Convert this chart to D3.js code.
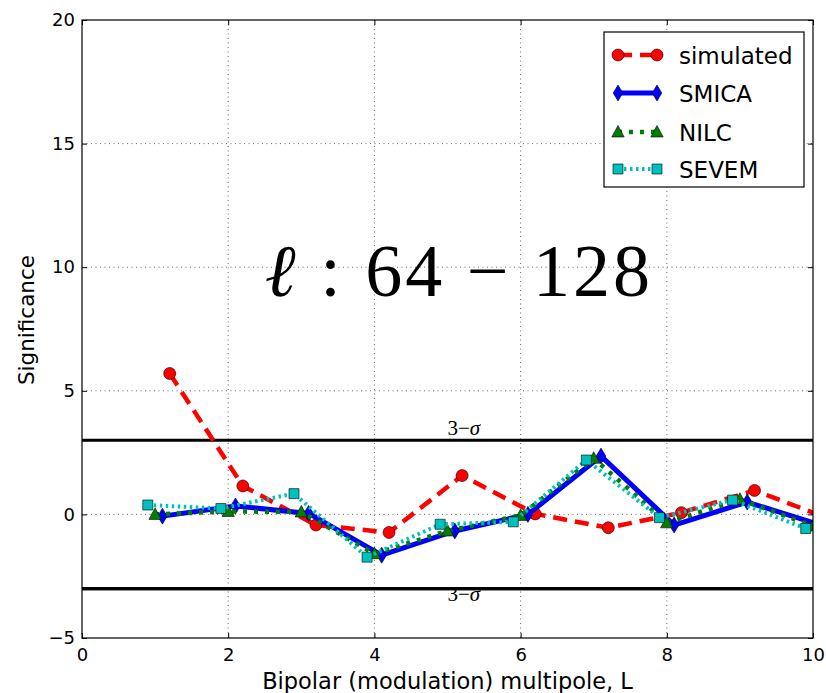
<!DOCTYPE html>
<html>
<head>
<meta charset="utf-8">
<script src="https://cdn.jsdelivr.net/npm/d3@7"></script>
<style>
  html, body { margin: 0; padding: 0; background: #fff; }
  svg { display: block; }
  text { font-family: "DejaVu Sans", sans-serif; fill: #000; }
</style>
</head>
<body>
<svg id="chart" width="826" height="693"></svg>
<script>
// Bipolar multipoles L = 1..10; each map is nudged sideways so the markers don't overlap
const simulatedL = [1.2, 2.2, 3.2, 4.2, 5.2, 6.2, 7.2, 8.2, 9.2, 10.2];
const simulated  = [5.70, 1.15, -0.43, -0.73, 1.57, 0.02, -0.54, 0.07, 0.97, -0.15];

const smicaL = [1.1, 2.1, 3.1, 4.1, 5.1, 6.1, 7.1, 8.1, 9.1, 10.1];
const smica  = [-0.07, 0.34, 0.04, -1.65, -0.67, 0.00, 2.36, -0.43, 0.50, -0.43];

const nilcL = [1, 2, 3, 4, 5, 6, 7, 8, 9, 10];
const nilc  = [0.00, 0.12, 0.10, -1.59, -0.67, -0.04, 2.27, -0.34, 0.61, -0.47];

const sevemL = [0.9, 1.9, 2.9, 3.9, 4.9, 5.9, 6.9, 7.9, 8.9, 9.9];
const sevem  = [0.38, 0.24, 0.84, -1.73, -0.40, -0.30, 2.20, -0.13, 0.58, -0.57];

const xTicks = [0, 2, 4, 6, 8, 10];
const yTicks = [-5, 0, 5, 10, 15, 20];
const sigmaLevels = [3, -3];
const sigmaLabelY = [3.2, -3.5];
const sigmaLabelL = 5;

const seriesNames = ["simulated", "SMICA", "NILC", "SEVEM"];

const svg = d3.select("#chart");
const W = 826, H = 693;
const m = { left: 82, right: 13, top: 20, bottom: 55 };
const pw = W - m.left - m.right, ph = H - m.top - m.bottom;

const x = d3.scaleLinear().domain([0, 10]).range([m.left, m.left + pw]);
const y = d3.scaleLinear().domain([-5, 20]).range([m.top + ph, m.top]);

svg.append("rect").attr("width", W).attr("height", H).attr("fill", "#fff");

svg.append("defs").append("clipPath").attr("id", "plotclip")
  .append("rect").attr("x", m.left).attr("y", m.top).attr("width", pw).attr("height", ph);

// dotted grid
const grid = svg.append("g");
grid.selectAll("line.gx").data(xTicks.slice(1, -1)).join("line")
  .attr("x1", d => x(d)).attr("x2", d => x(d))
  .attr("y1", m.top).attr("y2", m.top + ph)
  .attr("stroke", "#444").attr("stroke-width", 0.8).attr("stroke-dasharray", "1,3.5");
grid.selectAll("line.gy").data(yTicks.slice(1, -1)).join("line")
  .attr("y1", d => y(d)).attr("y2", d => y(d))
  .attr("x1", m.left).attr("x2", m.left + pw)
  .attr("stroke", "#444").attr("stroke-width", 0.8).attr("stroke-dasharray", "1,3.5");

// 3-sigma reference lines
const ref = svg.append("g");
ref.selectAll("line").data(sigmaLevels).join("line")
  .attr("x1", m.left).attr("x2", m.left + pw)
  .attr("y1", d => y(d)).attr("y2", d => y(d))
  .attr("stroke", "#000").attr("stroke-width", 3.2);

// marker shapes
function markerPath(shape) {
  switch (shape) {
    case "circle": return "M6,0A6,6 0 1,1 -6,0A6,6 0 1,1 6,0Z";
    case "thin_diamond": return "M0,-8L4.8,0L0,8L-4.8,0Z";
    case "triangle": return "M0,-6.5L6.2,5L-6.2,5Z";
    case "square": return "M-5,-5H5V5H-5Z";
  }
}

const series = [
  { name: seriesNames[0], xs: simulatedL, ys: simulated, color: "#ff0000", width: 4.5, dash: "14,8", marker: "circle" },
  { name: seriesNames[1], xs: smicaL, ys: smica, color: "#0000ff", width: 5, dash: null, marker: "thin_diamond" },
  { name: seriesNames[2], xs: nilcL, ys: nilc, color: "#007f00", width: 4.5, dash: "4,7", marker: "triangle" },
  { name: seriesNames[3], xs: sevemL, ys: sevem, color: "#00bfbf", width: 4, dash: "2.5,3.5", marker: "square" }
];

const line = d3.line().x(d => x(d[0])).y(d => y(d[1]));
const plot = svg.append("g").attr("clip-path", "url(#plotclip)");

series.forEach(s => {
  const pts = s.xs.map((v, i) => [v, s.ys[i]]);
  const g = plot.append("g");
  g.append("path").datum(pts).attr("d", line)
    .attr("fill", "none").attr("stroke", s.color).attr("stroke-width", s.width)
    .attr("stroke-dasharray", s.dash).attr("stroke-linejoin", "round");
  g.selectAll("path.mk").data(pts).join("path").attr("class", "mk")
    .attr("transform", d => `translate(${x(d[0])},${y(d[1])})`)
    .attr("d", markerPath(s.marker))
    .attr("fill", s.color).attr("stroke", "#000").attr("stroke-width", 0.6);
});

// sigma labels
svg.append("g").selectAll("text").data(sigmaLevels).join("text")
  .attr("x", x(sigmaLabelL)).attr("y", (d, i) => y(sigmaLabelY[i]))
  .style("font-family", "'Liberation Serif', 'DejaVu Serif', serif")
  .style("font-size", "21px")
  .html('3\u2212<tspan font-style="italic">\u03c3</tspan>');

// re-draw lower sigma line on top of its label
svg.append("line").attr("x1", m.left).attr("x2", m.left + pw)
  .attr("y1", y(-3)).attr("y2", y(-3)).attr("stroke", "#000").attr("stroke-width", 3.2);

// frame
svg.append("rect").attr("x", m.left).attr("y", m.top).attr("width", pw).attr("height", ph)
  .attr("fill", "none").attr("stroke", "#000").attr("stroke-width", 1.2);

// axes with inward ticks on every side
const fmt = d3.format("d");
const axL = svg.append("g").attr("transform", `translate(${m.left},0)`)
  .call(d3.axisLeft(y).tickValues(yTicks).tickFormat(fmt).tickSizeInner(-5).tickSizeOuter(0).tickPadding(7));
const axR = svg.append("g").attr("transform", `translate(${m.left + pw},0)`)
  .call(d3.axisRight(y).tickValues(yTicks).tickFormat("").tickSizeInner(-5).tickSizeOuter(0));
const axB = svg.append("g").attr("transform", `translate(0,${m.top + ph})`)
  .call(d3.axisBottom(x).tickValues(xTicks).tickFormat(fmt).tickSizeInner(-5).tickSizeOuter(0).tickPadding(10));
const axT = svg.append("g").attr("transform", `translate(0,${m.top})`)
  .call(d3.axisTop(x).tickValues(xTicks).tickFormat("").tickSizeInner(-5).tickSizeOuter(0));
[axL, axR, axB, axT].forEach(a => {
  a.select(".domain").remove();
  a.selectAll(".tick line").attr("stroke", "#000").attr("stroke-width", 1);
  a.selectAll("text").style("font-family", "'DejaVu Sans', sans-serif").style("font-size", "18px").attr("fill", "#000");
});

// axis titles
svg.append("text").attr("x", m.left + pw / 2).attr("y", 689)
  .attr("text-anchor", "middle").style("font-size", "22.5px")
  .text("Bipolar (modulation) multipole, L");
svg.append("text").attr("transform", "translate(34,320) rotate(-90)")
  .attr("text-anchor", "middle").style("font-size", "21.5px")
  .text("Significance");

// multipole range annotation
const ann = svg.append("text").attr("x", 265).attr("y", 296)
  .style("font-family", "'Liberation Serif', 'DejaVu Serif', serif")
  .style("font-size", "74px")
  .attr("textLength", 385).attr("lengthAdjust", "spacing");
ann.append("tspan").attr("font-style", "italic").text("\u2113");
ann.append("tspan").text(" : 64 \u2212 128");

// legend
const lg = svg.append("g").attr("transform", "translate(604,32)");
lg.append("rect").attr("width", 200).attr("height", 155)
  .attr("fill", "#fff").attr("stroke", "#000").attr("stroke-width", 1.2);
const rowY = [23, 61, 100, 137];
series.forEach((s, i) => {
  const r = lg.append("g").attr("transform", `translate(0,${rowY[i]})`);
  r.append("line").attr("x1", 14).attr("x2", 53).attr("y1", 0).attr("y2", 0)
    .attr("stroke", s.color).attr("stroke-width", s.width).attr("stroke-dasharray", s.dash);
  [14, 53].forEach(px => r.append("path").attr("d", markerPath(s.marker))
    .attr("transform", `translate(${px},0)`)
    .attr("fill", s.color).attr("stroke", "#000").attr("stroke-width", 0.6));
  r.append("text").attr("x", 75).attr("y", 8.5).style("font-size", "23px").text(s.name);
});
</script>
</body>
</html>
